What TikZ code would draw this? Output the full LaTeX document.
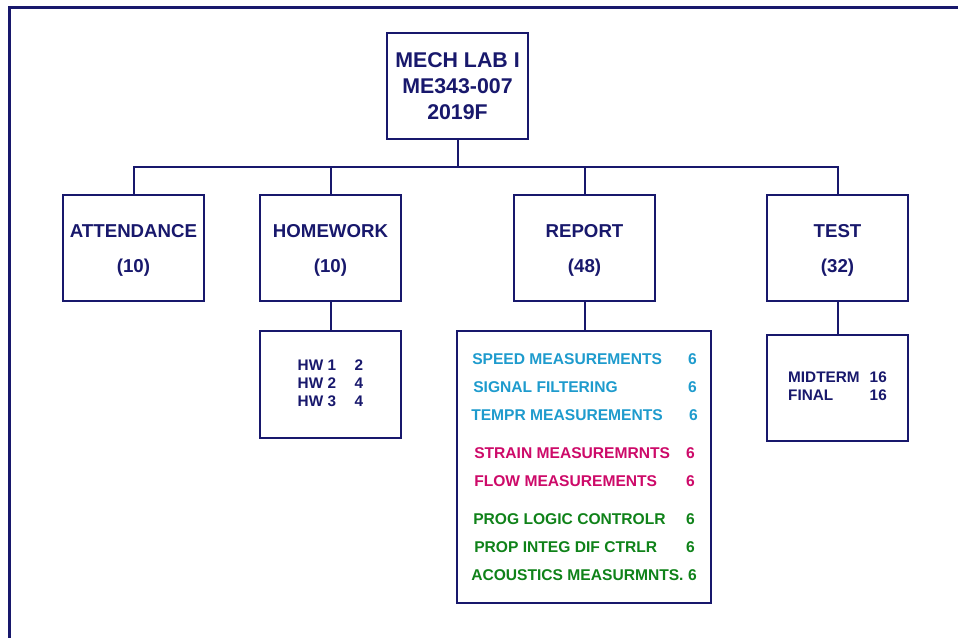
\documentclass[tikz,border=0pt]{standalone}
\usepackage{fontspec}
\setmainfont{Liberation Sans}
\definecolor{navy}{RGB}{24,24,108}
\definecolor{cyantx}{RGB}{30,155,205}
\definecolor{magtx}{RGB}{205,10,105}
\definecolor{greentx}{RGB}{15,130,25}
\tikzset{
  boxstyle/.style={draw=navy, line width=1.5pt, inner sep=0pt, align=center, text=navy,
    minimum width=105.75pt, minimum height=79.5pt},
  lvltwo/.style={boxstyle, font=\bfseries\fontsize{14}{26.25}\selectfont},
  conn/.style={draw=navy, line width=1.5pt},
  item/.style={inner sep=0pt, anchor=west, font=\bfseries\fontsize{11.7}{13}\selectfont},
  itemnum/.style={inner sep=0pt, anchor=east, font=\bfseries\fontsize{11.7}{13}\selectfont},
}
\newcommand{\twoline}[2]{\raisebox{-2.25pt}{\begin{tabular}{@{}c@{}}#1\\#2\end{tabular}}}
\begin{document}
\begin{tikzpicture}[x=0.75pt, y=-0.75pt]
\useasboundingbox (0,0) rectangle (958,638);
% outer frame
\draw[navy, line width=1.6pt] (9.5,638) -- (9.5,7.5) -- (958,7.5);
% title
\node[boxstyle, font=\bfseries\fontsize{16}{19.5}\selectfont] (title) at (457.5,86) {MECH LAB I\\ME343-007\\2019F};
% level two
\node[lvltwo] (att) at (133.5,248) {\twoline{ATTENDANCE}{(10)}};
\node[lvltwo] (hw) at (330.5,248) {\twoline{HOMEWORK}{(10)}};
\node[lvltwo] (rep) at (584.5,248) {\twoline{REPORT}{(48)}};
\node[lvltwo] (test) at (837.5,248) {\twoline{TEST}{(32)}};
\coordinate (bus) at (457.5,167);
\draw[conn] (title.south) -- (bus);
\draw[conn] (att.north) |- (bus);
\draw[conn] (test.north) |- (bus);
\draw[conn] (hw.north) -- (hw.north |- bus);
\draw[conn] (rep.north) -- (rep.north |- bus);
% detail boxes
\node[boxstyle, font=\bfseries\fontsize{11.5}{13.5}\selectfont] (hwd) at (330.5,384.5)
  {\raisebox{-0.75pt}{\begin{tabular}{@{}l@{\hspace{14pt}}l@{}}HW 1&2\\HW 2&4\\HW 3&4\end{tabular}}};
\node[boxstyle, font=\bfseries\fontsize{11.5}{13.5}\selectfont] (testd) at (837.5,388)
  {\raisebox{-1.5pt}{\begin{tabular}{@{}l@{\hspace{7.5pt}}l@{}}MIDTERM&16\\FINAL&16\end{tabular}}};
\node[boxstyle, minimum width=190.5pt, minimum height=204pt] (repd) at (584,467) {};
\draw[conn] (hw.south) -- (hwd.north);
\draw[conn] (rep.south) -- (rep.south |- repd.north);
\draw[conn] (test.south) -- (testd.north);
% report items
\node[item, text=cyantx] (r1) at (472,359) {SPEED MEASUREMENTS};
\node[item, text=cyantx] (r2) at (473,387) {SIGNAL FILTERING};
\node[item, text=cyantx] (r3) at (471,415) {TEMPR MEASUREMENTS};
\node[item, text=magtx] (r4) at (474,453) {STRAIN MEASUREMRNTS};
\node[item, text=magtx] (r5) at (474,481) {FLOW MEASUREMENTS};
\node[item, text=greentx] (r6) at (473,519) {PROG LOGIC CONTROLR};
\node[item, text=greentx] (r7) at (474,547) {PROP INTEG DIF CTRLR};
\node[item, text=greentx] (r8) at (471,575) {ACOUSTICS MEASURMNTS.};
\node[itemnum, text=cyantx] (n1) at (697,359) {6};
\node[itemnum, text=cyantx] (n2) at (697,387) {6};
\node[itemnum, text=cyantx] (n3) at (698,415) {6};
\node[itemnum, text=magtx] (n4) at (695,453) {6};
\node[itemnum, text=magtx] (n5) at (695,481) {6};
\node[itemnum, text=greentx] (n6) at (695,519) {6};
\node[itemnum, text=greentx] (n7) at (695,547) {6};
\node[itemnum, text=greentx] (n8) at (697,575) {6};
\end{tikzpicture}
\end{document}
